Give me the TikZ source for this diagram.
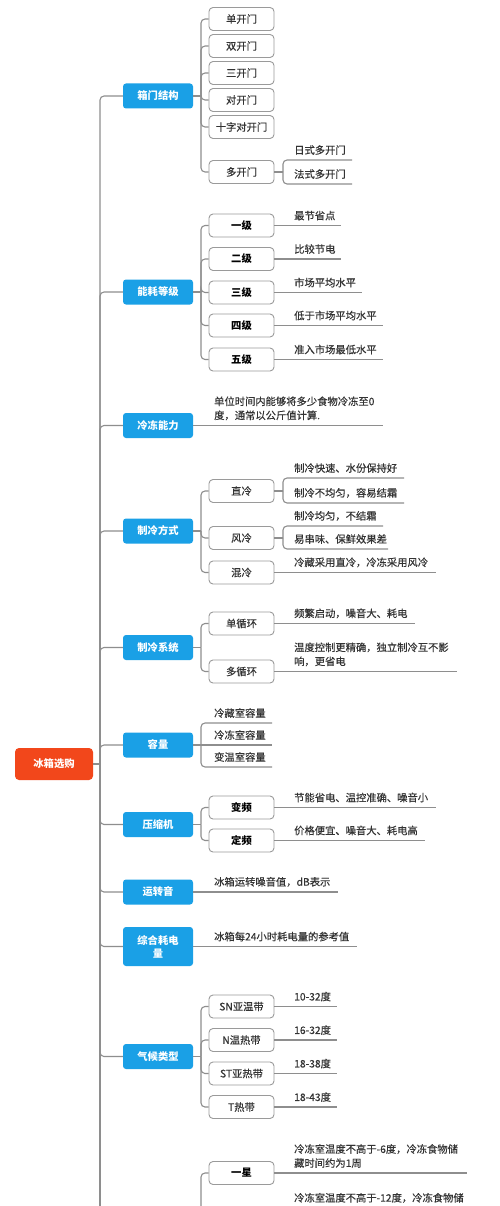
\documentclass[tikz,border=0pt]{standalone}
\usepackage{fontspec}
\setmainfont{Noto Sans CJK SC}
\newfontfamily\medfont{Noto Sans CJK SC}[FakeBold=0.35]
\definecolor{RootRed}{HTML}{F2471B}
\definecolor{CatBlue}{HTML}{1AA0E6}
\definecolor{Wire}{HTML}{8E8E8E}
\definecolor{Frame}{HTML}{9A9A9A}
\definecolor{Ink}{HTML}{333333}
\begin{document}
\begin{tikzpicture}[x=1pt,y=-1pt,
  rootbox/.style={rounded corners=4pt,fill=RootRed,text=white,font=\bfseries\fontsize{10.3}{12}\selectfont,minimum width=78pt,minimum height=32pt,inner sep=0pt},
  cat/.style={rounded corners=3pt,fill=CatBlue,text=white,font=\bfseries\fontsize{10.3}{13}\selectfont,minimum width=70pt,minimum height=25pt,inner sep=0pt,align=center},
  sub/.style={rounded corners=4pt,draw=Frame,fill=white,line width=0.9pt,text=Ink,font=\medfont\fontsize{10.3}{12}\selectfont,minimum width=65pt,minimum height=23pt,inner sep=0pt},
  subbold/.style={sub,text=black,font=\bfseries\fontsize{10.3}{12}\selectfont},
  leaf/.style={anchor=south west,inner sep=0pt,align=left,text=Ink,font=\medfont\fontsize{10.3}{14}\selectfont},
  link/.style={draw=Wire,line width=1.1pt,rounded corners=4pt}
]
\useasboundingbox (0,0) rectangle (500,1206);
\fill[white] (0,0) rectangle (500,1206);

% root and spine
\node[rootbox] (root) at (54,764) {冰箱选购};
\coordinate (spine) at (100,764);
\coordinate (spineend) at (100,1230);
\draw[link] (root.east) -- (spine);
\draw[link] (spine) -- (spineend);

% categories
\node[cat] (door) at (158,96) {箱门结构};
\node[cat] (energy) at (158,292) {能耗等级};
\node[cat] (freeze) at (158,425.5) {冷冻能力};
\node[cat] (cool) at (158,531) {制冷方式};
\node[cat] (system) at (158,647.5) {制冷系统};
\node[cat] (capacity) at (158,745) {容量};
\node[cat] (comp) at (158,824.5) {压缩机};
\node[cat] (noise) at (158,892) {运转音};
\node[cat,minimum height=39pt] (power) at (158,946.5) {综合耗电\\量};
\node[cat] (climate) at (158,1056.5) {气候类型};
\draw[link] (spine) |- (door.west);
\draw[link] (spine) |- (energy.west);
\draw[link] (spine) |- (freeze.west);
\draw[link] (spine) |- (cool.west);
\draw[link] (spine) |- (system.west);
\draw[link] (spine) |- (capacity.west);
\draw[link] (spine) |- (comp.west);
\draw[link] (spine) |- (noise.west);
\draw[link] (spine) |- (power.west);
\draw[link] (spine) |- (climate.west);

% door structure
\node[sub] (d1) at (241.5,19) {单开门};
\node[sub] (d2) at (241.5,46) {双开门};
\node[sub] (d3) at (241.5,73) {三开门};
\node[sub] (d4) at (241.5,100) {对开门};
\node[sub] (d5) at (241.5,127) {十字对开门};
\node[sub] (d6) at (241.5,172) {多开门};
\coordinate (doorfork) at (201,96);
\draw[link] (door.east) -- (doorfork);
\draw[link] (doorfork) |- (d1.west);
\draw[link] (doorfork) |- (d2.west);
\draw[link] (doorfork) |- (d3.west);
\draw[link] (doorfork) |- (d4.west);
\draw[link] (doorfork) |- (d5.west);
\draw[link] (doorfork) |- (d6.west);
\node[leaf] (jp) at (294,155) {日式多开门};
\node[leaf] (fr) at (294,179) {法式多开门};
\coordinate (multifork) at (283,172);
\coordinate (jpend) at (352,160);
\coordinate (frend) at (352,184);
\draw[link] (d6.east) -- (multifork);
\draw[link] (multifork) |- (jpend);
\draw[link] (multifork) |- (frend);

% energy grade
\node[subbold] (e1) at (241.5,225.5) {一级};
\node[subbold] (e2) at (241.5,259) {二级};
\node[subbold] (e3) at (241.5,292.5) {三级};
\node[subbold] (e4) at (241.5,325.5) {四级};
\node[subbold] (e5) at (241.5,359.5) {五级};
\coordinate (energyfork) at (201,292);
\draw[link] (energy.east) -- (energyfork);
\draw[link] (energyfork) |- (e1.west);
\draw[link] (energyfork) |- (e2.west);
\draw[link] (energyfork) |- (e3.west);
\draw[link] (energyfork) |- (e4.west);
\draw[link] (energyfork) |- (e5.west);
\node[leaf] (e1t) at (294,220.5) {最节省点};
\node[leaf] (e2t) at (294,254) {比较节电};
\node[leaf] (e3t) at (294,287.5) {市场平均水平};
\node[leaf] (e4t) at (294,320.5) {低于市场平均水平};
\node[leaf] (e5t) at (294,354.5) {准入市场最低水平};
\coordinate (e1end) at (341,225.5);
\coordinate (e2end) at (341,259);
\coordinate (e3end) at (362,292.5);
\coordinate (e4end) at (383,325.5);
\coordinate (e5end) at (383,359.5);
\draw[link] (e1.east) -- (e1end);
\draw[link] (e2.east) -- (e2end);
\draw[link] (e3.east) -- (e3end);
\draw[link] (e4.east) -- (e4end);
\draw[link] (e5.east) -- (e5end);

% freezing capacity
\node[leaf] (freezet) at (214,420.5) {单位时间内能够将多少食物冷冻至0\\度，通常以公斤值计算.};
\coordinate (freezeend) at (383,425.5);
\draw[link] (freeze.east) -- (freezeend);

% cooling mode
\node[sub] (c1) at (241.5,491) {直冷};
\node[sub] (c2) at (241.5,538) {风冷};
\node[sub] (c3) at (241.5,572.5) {混冷};
\coordinate (coolfork) at (201,531);
\draw[link] (cool.east) -- (coolfork);
\draw[link] (coolfork) |- (c1.west);
\draw[link] (coolfork) |- (c2.west);
\draw[link] (coolfork) |- (c3.west);
\node[leaf] (c1a) at (294,473) {制冷快速、水份保持好};
\node[leaf] (c1b) at (294,498) {制冷不均匀，容易结霜};
\coordinate (c1fork) at (283,491);
\coordinate (c1aend) at (404,478);
\coordinate (c1bend) at (404,503);
\draw[link] (c1.east) -- (c1fork);
\draw[link] (c1fork) |- (c1aend);
\draw[link] (c1fork) |- (c1bend);
\node[leaf] (c2a) at (294,521) {制冷均匀，不结霜};
\node[leaf] (c2b) at (294,544) {易串味、保鲜效果差};
\coordinate (c2fork) at (283,538);
\coordinate (c2aend) at (383,526);
\coordinate (c2bend) at (388,549);
\draw[link] (c2.east) -- (c2fork);
\draw[link] (c2fork) |- (c2aend);
\draw[link] (c2fork) |- (c2bend);
\node[leaf] (c3t) at (294,567.5) {冷藏采用直冷，冷冻采用风冷};
\coordinate (c3end) at (436,572.5);
\draw[link] (c3.east) -- (c3end);

% cooling system
\node[sub] (s1) at (241.5,623.5) {单循环};
\node[sub] (s2) at (241.5,671.5) {多循环};
\coordinate (systemfork) at (201,647.5);
\draw[link] (system.east) -- (systemfork);
\draw[link] (systemfork) |- (s1.west);
\draw[link] (systemfork) |- (s2.west);
\node[leaf] (s1t) at (294,618.5) {频繁启动，噪音大、耗电};
\node[leaf] (s2t) at (294,666.5) {温度控制更精确，独立制冷互不影\\响，更省电};
\coordinate (s1end) at (415,623.5);
\coordinate (s2end) at (457,671.5);
\draw[link] (s1.east) -- (s1end);
\draw[link] (s2.east) -- (s2end);

% capacity
\coordinate (capfork) at (201,745);
\coordinate (cap1end) at (272,723);
\coordinate (cap2end) at (272,745);
\coordinate (cap3end) at (272,767);
\node[leaf] (cap1) at (214,718) {冷藏室容量};
\node[leaf] (cap2) at (214,740) {冷冻室容量};
\node[leaf] (cap3) at (214,762) {变温室容量};
\draw[link] (capacity.east) -- (capfork);
\draw[link] (capfork) |- (cap1end);
\draw[link] (capfork) -- (cap2end);
\draw[link] (capfork) |- (cap3end);

% compressor
\node[subbold] (k1) at (241.5,807.5) {变频};
\node[subbold] (k2) at (241.5,840.5) {定频};
\coordinate (compfork) at (201,824.5);
\draw[link] (comp.east) -- (compfork);
\draw[link] (compfork) |- (k1.west);
\draw[link] (compfork) |- (k2.west);
\node[leaf] (k1t) at (294,802.5) {节能省电、温控准确、噪音小};
\node[leaf] (k2t) at (294,835.5) {价格便宜、噪音大、耗电高};
\coordinate (k1end) at (436,807.5);
\coordinate (k2end) at (425,840.5);
\draw[link] (k1.east) -- (k1end);
\draw[link] (k2.east) -- (k2end);

% running noise, power use
\node[leaf] (noiset) at (214,887) {冰箱运转噪音值，dB表示};
\coordinate (noiseend) at (338,892);
\draw[link] (noise.east) -- (noiseend);
\node[leaf] (powert) at (214,941.5) {冰箱每24小时耗电量的参考值};
\coordinate (powerend) at (357,946.5);
\draw[link] (power.east) -- (powerend);

% climate type
\node[sub] (w1) at (241.5,1006.5) {SN亚温带};
\node[sub] (w2) at (241.5,1040) {N温热带};
\node[sub] (w3) at (241.5,1073.5) {ST亚热带};
\node[sub] (w4) at (241.5,1107) {T热带};
\coordinate (climatefork) at (201,1056.5);
\draw[link] (climate.east) -- (climatefork);
\draw[link] (climatefork) |- (w1.west);
\draw[link] (climatefork) |- (w2.west);
\draw[link] (climatefork) |- (w3.west);
\draw[link] (climatefork) |- (w4.west);
\node[leaf] (w1t) at (294,1001.5) {10-32度};
\node[leaf] (w2t) at (294,1035) {16-32度};
\node[leaf] (w3t) at (294,1068.5) {18-38度};
\node[leaf] (w4t) at (294,1102) {18-43度};
\coordinate (w1end) at (337,1006.5);
\coordinate (w2end) at (337,1040);
\coordinate (w3end) at (337,1073.5);
\coordinate (w4end) at (337,1107);
\draw[link] (w1.east) -- (w1end);
\draw[link] (w2.east) -- (w2end);
\draw[link] (w3.east) -- (w3end);
\draw[link] (w4.east) -- (w4end);

% star rating (runs past the bottom edge)
\node[subbold] (star1) at (241.5,1173) {一星};
\coordinate (starfork) at (201,1230);
\draw[link] (starfork) |- (star1.west);
\node[leaf] (star1t) at (294,1168) {冷冻室温度不高于-6度，冷冻食物储\\藏时间约为1周};
\coordinate (star1end) at (467,1173);
\draw[link] (star1.east) -- (star1end);
\node[leaf] (star2t) at (294,1203) {冷冻室温度不高于-12度，冷冻食物储};
\end{tikzpicture}
\end{document}
